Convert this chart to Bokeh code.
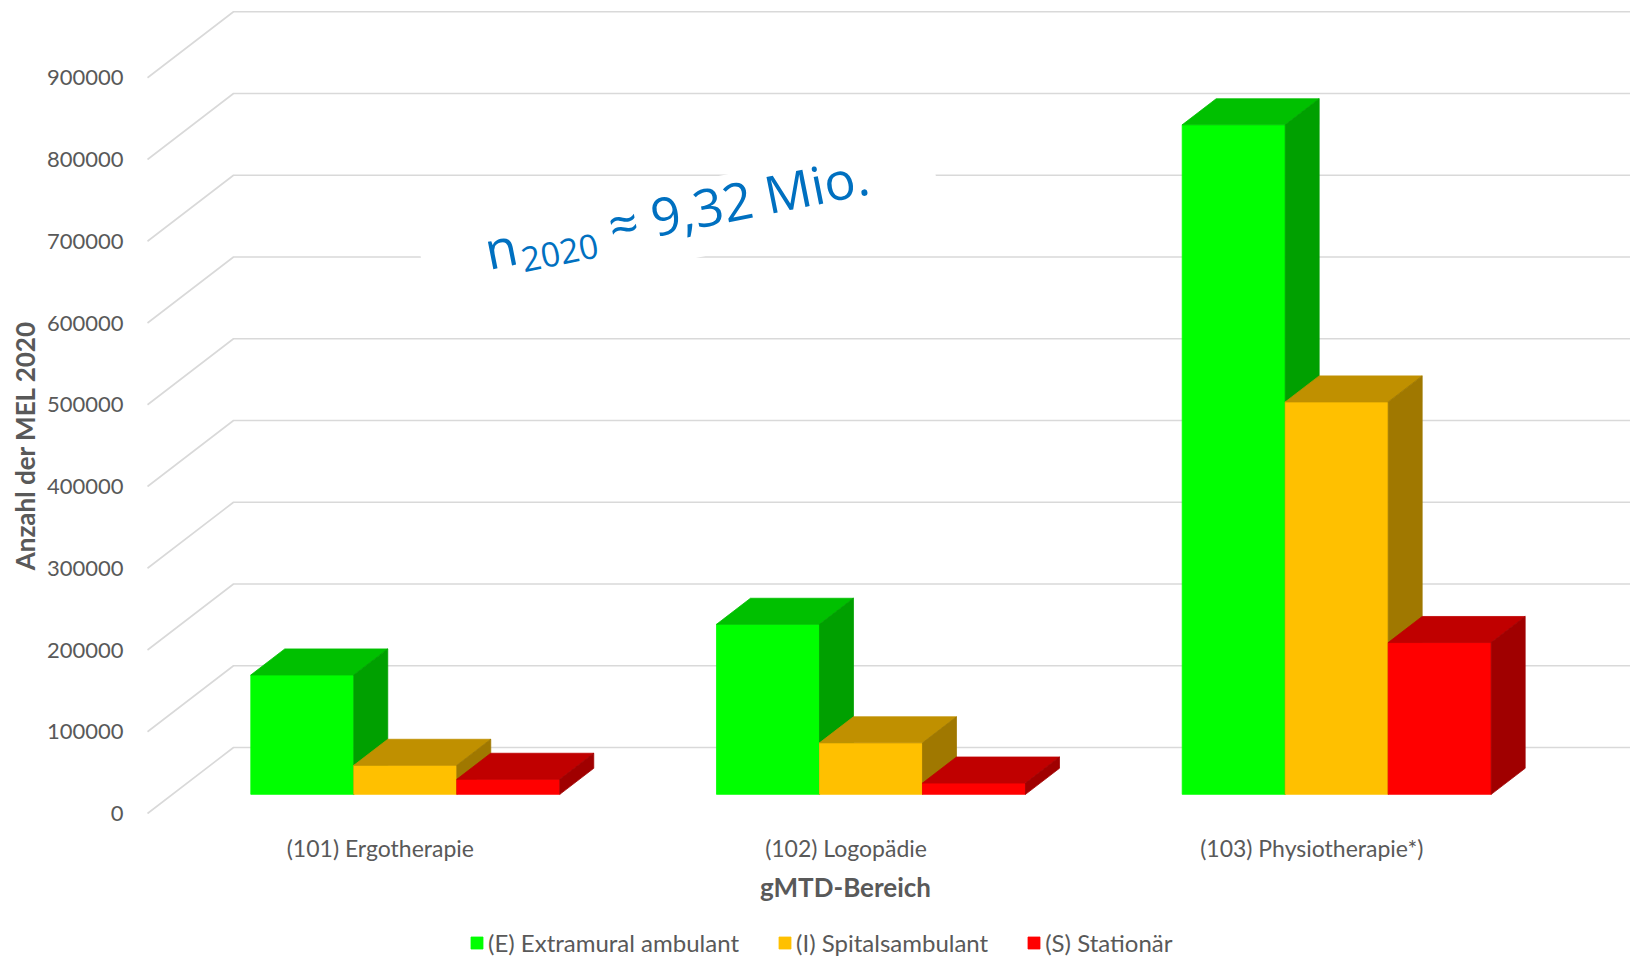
import math
from bokeh.plotting import figure
from bokeh.models import Range1d, Legend, LegendItem
from bokeh.embed import file_html
from bokeh.resources import INLINE
from bokeh.core.properties import value

# ---------------- data ----------------
categories = ["(101) Ergotherapie", "(102) Logopädie", "(103) Physiotherapie*)"]
series_names = ["(E) Extramural ambulant", "(I) Spitalsambulant", "(S) Stationär"]
extramural = [146000, 208000, 819000]
spitalsambulant = [35500, 63000, 480000]
stationaer = [18400, 13800, 185700]
y_ticks = [0, 100000, 200000, 300000, 400000, 500000, 600000, 700000, 800000, 900000]
y_tick_labels = [str(t) for t in y_ticks]
series_values = [extramural, spitalsambulant, stationaer]

# colours: front, top, side
front_cols = ["#00FF00", "#FFC000", "#FF0000"]
top_cols = ["#00C000", "#C09000", "#C00000"]
side_cols = ["#00A000", "#A07800", "#A00000"]

# ---------------- geometry ----------------
W, H = 1630, 959
PLOT_L, PLOT_B = 147, 813   # front plane origin in screen px
PX_PER_X = 465.7            # px per category
PX_PER_V = 81.75 / 100000   # px per value unit
X0 = 0.5
x_lo = X0 - PLOT_L / PX_PER_X
x_hi = X0 + (W - PLOT_L) / PX_PER_X
y_lo = -(H - PLOT_B) / PX_PER_V
y_hi = PLOT_B / PX_PER_V

DX = 86 / PX_PER_X          # depth vector (data units)
DY = 66 / PX_PER_V
F1, F2 = 0.29, 0.685        # bar depth (fraction of floor depth)
BW = 103 / PX_PER_X         # bar width

def to_data(cx, cy):
    return X0 + (cx - PLOT_L) / PX_PER_X, (PLOT_B - cy) / PX_PER_V

TXT = "#595959"
FONT = "Lato"

p = figure(width=W, height=H, x_range=Range1d(x_lo, x_hi), y_range=Range1d(y_lo, y_hi),
           output_backend="svg", toolbar_location=None,
           x_axis_location=None, y_axis_location=None,
           min_border_left=0, min_border_right=0, min_border_top=0, min_border_bottom=0)
p.outline_line_color = None
p.grid.visible = False
p.background_fill_color = "white"
p.border_fill_color = "white"

# ---------------- gridlines (3D walls) ----------------
gx, gy = [], []
for t in y_ticks:
    gx.append([X0, X0 + DX, x_hi + 1])
    gy.append([t, t + DY, t + DY])
p.multi_line(gx, gy, line_color="#D9D9D9", line_width=1.6)

# ---------------- value axis labels ----------------
p.text(x=[X0 - 24 / PX_PER_X] * len(y_ticks), y=y_ticks, text=y_tick_labels,
       text_font=value(FONT), text_font_size="22px", text_color=TXT,
       text_align="right", text_baseline="middle")

# ---------------- category axis labels ----------------
_, cat_y = to_data(0, 847)
p.text(x=[1, 2, 3], y=[cat_y] * 3, text=categories,
       text_font=value(FONT), text_font_size="23px", text_color=TXT,
       text_align="center", text_baseline="middle")

# axis titles
ttx, tty = to_data(845, 886)
p.text(x=[ttx], y=[tty], text=["gMTD-Bereich"], text_font=value(FONT),
       text_font_size="26px", text_font_style="bold", text_color=TXT,
       text_align="center", text_baseline="middle")
ytx, yty = to_data(24, 445)
p.text(x=[ytx], y=[yty], text=["Anzahl der MEL 2020"], angle=math.pi / 2,
       text_font=value(FONT), text_font_size="26px", text_font_style="bold",
       text_color=TXT, text_align="center", text_baseline="middle")

# ---------------- annotation box + text ----------------
theta = math.radians(11.25)
bx, by = to_data(679, 222)
p.rect(x=[bx], y=[by], width=521, height=76, width_units="screen",
       height_units="screen", angle=theta, fill_color="white", line_color=None)

def along(L, perp):
    perp = perp - 18
    cx = 488 + L * math.cos(theta) + perp * math.sin(theta)
    cy = 267 - L * math.sin(theta) + perp * math.cos(theta)
    return to_data(cx, cy)

pieces = [("n", 0, 0, "52px"), ("2020", 34, 17, "34px"), ("≈ 9,32 Mio.", 126, 0, "52px")]
for txt, L, pp, fs in pieces:
    tx, ty = along(L, pp)
    p.text(x=[tx], y=[ty], text=[txt], angle=theta, text_font=value("Open Sans"),
           text_font_size=fs, text_color="#0070C0", text_align="left",
           text_baseline="alphabetic")

# ---------------- bars ----------------
d = F2 - F1
legend_items = []
for j, vals in enumerate(series_values):
    left, right, bottom, top = [], [], [], []
    txs, tys, sxs, sys_ = [], [], [], []
    for i, v in enumerate(vals):
        c = i + 1
        x0 = c - 1.5 * BW + j * BW + F1 * DX
        x1 = x0 + BW
        y0 = F1 * DY
        y1 = v + F1 * DY
        left.append(x0); right.append(x1); bottom.append(y0); top.append(y1)
        txs.append([x0, x1, x1 + d * DX, x0 + d * DX])
        tys.append([y1, y1, y1 + d * DY, y1 + d * DY])
        sxs.append([x1, x1, x1 + d * DX, x1 + d * DX])
        sys_.append([y0, y1, y1 + d * DY, y0 + d * DY])
    r = p.quad(left=left, right=right, bottom=bottom, top=top,
               fill_color=front_cols[j], line_color=front_cols[j], line_width=0.8)
    p.patches(txs, tys, fill_color=top_cols[j], line_color=top_cols[j], line_width=0.8)
    p.patches(sxs, sys_, fill_color=side_cols[j], line_color=side_cols[j], line_width=0.8)
    legend_items.append(LegendItem(label=series_names[j], renderers=[r]))

# legend
legend = Legend(items=legend_items, orientation="horizontal", location=(469, 2),
                label_text_font=FONT, label_text_font_size="24px",
                label_text_color=TXT, glyph_width=15, glyph_height=15,
                label_standoff=4, spacing=38, padding=0, margin=0,
                border_line_color=None, background_fill_alpha=0)
p.add_layout(legend)

open("out.html", "w").write(file_html(p, INLINE))
